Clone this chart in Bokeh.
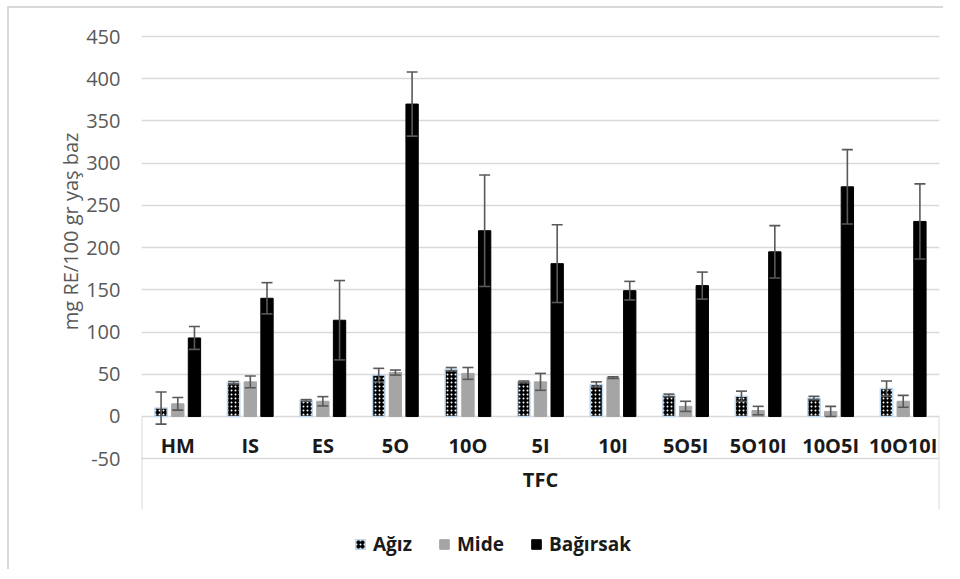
from bokeh.plotting import figure
from bokeh.models import (ColumnDataSource, FixedTicker, Whisker, TeeHead, Legend,
                          LegendItem, Range1d, LinearAxis, Grid, Title)
from bokeh.embed import file_html
from bokeh.resources import INLINE

categories = ["HM", "IS", "ES", "5O", "10O", "5I", "10I", "5O5I", "5O10I", "10O5I", "10O10I"]
agiz = [10, 40, 19, 49, 56, 41, 38, 25, 24, 22, 33]
agiz_err = [19, 1.5, 1, 8, 2, 1, 3, 1.5, 6, 2, 9]
mide = [15, 41, 18, 52, 51, 41, 46, 12, 7, 6, 18]
mide_err = [7.5, 7, 5.5, 3, 7, 10, 1, 6, 5, 6, 7]
bagirsak = [93, 140, 114, 370, 220, 181, 149, 155, 195, 272, 231]
bagirsak_err = [13.5, 18.5, 47, 38, 66, 46, 11, 16, 31, 44, 44.5]
series_names = ["Ağız", "Mide", "Bağırsak"]
y_ticks = [-50, 0, 50, 100, 150, 200, 250, 300, 350, 400, 450]
x_title = "TFC"
y_title = "mg RE/100 gr yaş baz"

n = len(categories)
FONT = "Open Sans"
GRID = "#D9D9D9"
ERR = "#595959"

p = figure(width=936, height=563, output_backend="svg", toolbar_location=None,
           x_range=Range1d(0, n), y_range=Range1d(-183.6, 459.5),
           x_axis_type=None, y_axis_type=None,
           min_border_left=132, min_border_right=6, min_border_top=20, min_border_bottom=0)
p.outline_line_color = None
p.background_fill_color = "white"
p.border_fill_color = "white"
p.styles = {"border-left": "2px solid #D9D9D9", "border-top": "2px solid #D9D9D9",
            "margin-left": "7px", "margin-top": "6px"}

grid = Grid(dimension=1, ticker=FixedTicker(ticks=y_ticks), grid_line_color=GRID, grid_line_width=1.6)
p.add_layout(grid, "center")

# category box separators
p.segment(x0=[0, n], y0=[0, 0], x1=[0, n], y1=[-110, -110], line_color=GRID, line_width=2)

offsets = [-0.23, 0.0, 0.23]
bw = 0.17
renderers = []
styles = [
    dict(fill_color="black", hatch_pattern="dot", hatch_color="white", hatch_scale=4, hatch_weight=2,
         line_color="#BDD7EE", line_width=1.5),
    dict(fill_color="#A5A5A5", line_color="#A5A5A5", line_width=1),
    dict(fill_color="black", line_color="black", line_width=1),
]
for vals, errs, off, st in zip([agiz, mide, bagirsak], [agiz_err, mide_err, bagirsak_err], offsets, styles):
    xs = [i + 0.5 + off for i in range(n)]
    src = ColumnDataSource(dict(x=xs, top=vals,
                                up=[v + e for v, e in zip(vals, errs)],
                                lo=[v - e for v, e in zip(vals, errs)]))
    r = p.vbar(x="x", top="top", bottom=0, width=bw, source=src, **st)
    renderers.append(r)
    w = Whisker(source=src, base="x", upper="up", lower="lo", dimension="height",
                line_color=ERR, line_width=1.6,
                upper_head=TeeHead(size=11, line_color=ERR, line_width=1.6),
                lower_head=TeeHead(size=11, line_color=ERR, line_width=1.6))
    w.level = "annotation"
    p.add_layout(w)

yaxis = LinearAxis(ticker=FixedTicker(ticks=y_ticks), axis_line_color=None,
                   major_label_overrides={t: str(t) for t in y_ticks},
                   major_tick_line_color=None, minor_tick_line_color=None,
                   major_label_text_font=FONT, major_label_text_font_size="20px",
                   major_label_text_color="#595959", major_label_standoff=15)
p.add_layout(yaxis, "left")

ytitle = Title(text=y_title, align="right", offset=104, text_font=FONT, text_font_size="20px",
               text_font_style="normal", text_color="#595959", standoff=0)
p.add_layout(ytitle, "left")

xaxis = LinearAxis(fixed_location=0, ticker=FixedTicker(ticks=[i + 0.5 for i in range(n)]),
                   major_label_overrides={i + 0.5: c for i, c in enumerate(categories)},
                   axis_line_color=None, major_tick_line_color=None, minor_tick_line_color=None,
                   major_label_text_font=FONT, major_label_text_font_size="20px",
                   major_label_text_font_style="bold", major_label_text_color="#1a1a1a",
                   major_label_standoff=10,
                   axis_label=x_title, axis_label_text_font=FONT, axis_label_text_font_size="20px",
                   axis_label_text_font_style="bold", axis_label_text_color="#1a1a1a",
                   axis_label_standoff=3)
p.add_layout(xaxis, "below")

legend = Legend(items=[LegendItem(label=nm, renderers=[r]) for nm, r in zip(series_names, renderers)],
                orientation="horizontal", location=(213, 14), glyph_width=12, glyph_height=12,
                label_standoff=7, spacing=26, padding=5, margin=0,
                label_text_font=FONT, label_text_font_size="19px", label_text_font_style="bold",
                label_text_color="#1a1a1a", border_line_color=None, background_fill_alpha=0)
p.add_layout(legend, "center")

open("out.html", "w").write(file_html(p, INLINE))
